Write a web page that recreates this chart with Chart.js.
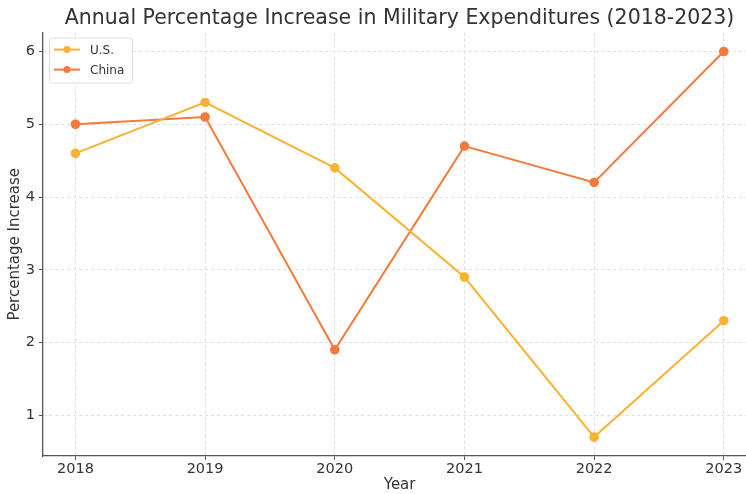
<!DOCTYPE html>
<html>
<head>
<meta charset="utf-8">
<script src="https://cdn.jsdelivr.net/npm/chart.js@4.4.1/dist/chart.umd.min.js"></script>
<style>
  html, body { margin: 0; padding: 0; background: #fff; overflow: hidden; }
  #wrap { width: 762px; height: 494px; position: relative; }
</style>
</head>
<body>
<div id="wrap"><canvas id="chart"></canvas></div>
<script>
const years = [2018, 2019, 2020, 2021, 2022, 2023];
const usValues = [4.6, 5.3, 4.4, 2.9, 0.7, 2.3];
const chinaValues = [5.0, 5.1, 1.9, 4.7, 4.2, 6.0];
const yTicks = [1, 2, 3, 4, 5, 6];

const usColor = '#f9b233';
const chinaColor = '#f47a3c';
const textColor = '#333';

// legend box drawn like matplotlib's, inside the plot at top-left
const boxLegend = {
  id: 'boxLegend',
  afterDatasetsDraw(chart) {
    const c = chart.ctx;
    const area = chart.chartArea;
    const x0 = area.left + 6, y0 = area.top + 5;
    c.save();
    c.fillStyle = 'rgba(255,255,255,0.85)';
    c.strokeStyle = '#ddd';
    c.lineWidth = 1;
    c.beginPath();
    c.roundRect(x0 + 0.5, y0 + 0.5, 83, 45, 3);
    c.fill();
    c.stroke();
    c.font = '12px "DejaVu Sans"';
    c.textBaseline = 'middle';
    chart.data.datasets.forEach((ds, i) => {
      const y = y0 + 12 + i * 20;
      c.strokeStyle = ds.borderColor;
      c.lineWidth = 2;
      c.beginPath();
      c.moveTo(x0 + 5, y);
      c.lineTo(x0 + 31, y);
      c.stroke();
      c.fillStyle = ds.borderColor;
      c.beginPath();
      c.arc(x0 + 18, y, 3.5, 0, Math.PI * 2);
      c.fill();
      c.fillStyle = textColor;
      c.fillText(ds.label, x0 + 41, y + 1);
    });
    c.restore();
  }
};

new Chart(document.getElementById('chart'), {
  type: 'line',
  data: {
    datasets: [
      {
        label: 'U.S.',
        data: years.map((y, i) => ({ x: y, y: usValues[i] })),
        borderColor: usColor,
        backgroundColor: usColor,
        borderWidth: 2,
        pointRadius: 3.8,
        pointHoverRadius: 3.8,
        tension: 0
      },
      {
        label: 'China',
        data: years.map((y, i) => ({ x: y, y: chinaValues[i] })),
        borderColor: chinaColor,
        backgroundColor: chinaColor,
        borderWidth: 2,
        pointRadius: 3.8,
        pointHoverRadius: 3.8,
        tension: 0
      }
    ]
  },
  options: {
    responsive: true,
    maintainAspectRatio: false,
    animation: false,
    layout: { padding: 0 },
    plugins: {
      legend: { display: false },
      tooltip: { enabled: false },
      title: {
        display: true,
        fullSize: false,
        text: 'Annual Percentage Increase in Military Expenditures (2018-2023)',
        color: textColor,
        font: { family: 'DejaVu Sans', size: 20.5, weight: 'normal' },
        padding: { top: 6, bottom: 2 }
      }
    },
    scales: {
      x: {
        type: 'linear',
        min: 2017.75,
        max: 2023.25,
        afterBuildTicks: (s) => { s.ticks = years.map(v => ({ value: v })); },
        afterFit: (s) => { s.height = 38; },
        ticks: {
          color: textColor,
          font: { family: 'DejaVu Sans', size: 14.5 },
          padding: 1,
          callback: (v) => String(v)
        },
        grid: { color: '#ddd', tickColor: '#555', tickLength: 4, lineWidth: 1 },
        border: { color: '#555', width: 1.3, dash: [3, 3] },
        title: {
          display: true,
          text: 'Year',
          color: textColor,
          font: { family: 'DejaVu Sans', size: 15 },
          padding: { top: 0, bottom: 0 }
        }
      },
      y: {
        min: 0.44,
        max: 6.26,
        afterBuildTicks: (s) => { s.ticks = yTicks.map(v => ({ value: v })); },
        afterFit: (s) => { s.width = 43; },
        ticks: {
          color: textColor,
          font: { family: 'DejaVu Sans', size: 14.5 },
          padding: 4
        },
        grid: { color: '#ddd', tickColor: '#555', tickLength: 4, lineWidth: 1 },
        border: { color: '#555', width: 1.3, dash: [3, 3] },
        title: {
          display: true,
          text: 'Percentage Increase',
          color: textColor,
          font: { family: 'DejaVu Sans', size: 15 },
          padding: { top: 6, bottom: 0 }
        }
      }
    }
  },
  plugins: [boxLegend]
});
</script>
</body>
</html>
